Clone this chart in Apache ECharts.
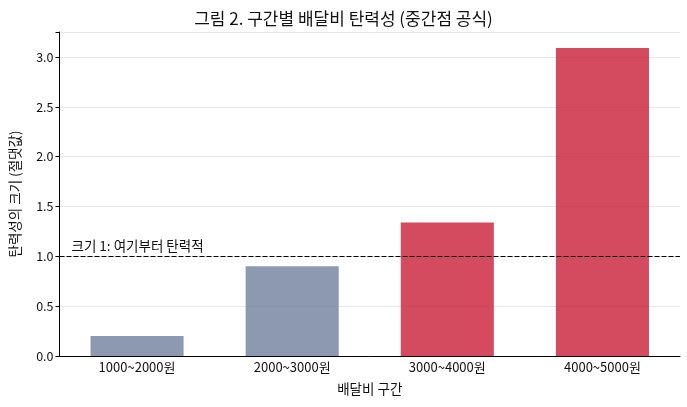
<!DOCTYPE html>
<html>
<head>
<meta charset="utf-8">
<script src="https://cdn.jsdelivr.net/npm/echarts@6/dist/echarts.min.js"></script>
<style>
  html, body { margin: 0; padding: 0; background: #fff; }
  #chart { width: 687px; height: 407px; }
</style>
</head>
<body>
<div id="chart"></div>
<script>
// 구간별 배달비 탄력성 (중간점 공식)
const categories = ['1000~2000원', '2000~3000원', '3000~4000원', '4000~5000원'];
const elasticity = [0.20, 0.90, 1.34, 3.09];
const threshold = 1.0;
const thresholdLabel = '크기 1: 여기부터 탄력적';
const yTicks = [0, 0.5, 1.0, 1.5, 2.0, 2.5, 3.0];

const FONT = '"Noto Sans CJK KR", "Noto Sans", sans-serif';
const grayColor = 'rgba(121, 135, 162, 0.85)';
const redColor = 'rgba(205, 42, 66, 0.85)';

const chart = echarts.init(document.getElementById('chart'), null, { renderer: 'canvas' });

const option = {
  backgroundColor: '#ffffff',
  textStyle: { fontFamily: FONT },
  title: {
    text: '그림 2. 구간별 배달비 탄력성 (중간점 공식)',
    left: 'center',
    top: 5,
    textStyle: { fontFamily: FONT, fontSize: 17, fontWeight: 'normal', color: '#111' }
  },
  grid: { left: 57, right: 7, top: 32, bottom: 51 },
  xAxis: {
    type: 'category',
    data: categories,
    name: '배달비 구간',
    nameLocation: 'middle',
    nameGap: 26,
    nameTextStyle: { fontFamily: FONT, fontSize: 13.5, color: '#111' },
    axisLine: { lineStyle: { color: '#000', width: 1 } },
    axisTick: { alignWithLabel: true, length: 4, lineStyle: { color: '#000' } },
    axisLabel: { fontFamily: FONT, fontSize: 13, color: '#111', margin: 5 }
  },
  yAxis: {
    type: 'value',
    min: 0,
    max: 3.25,
    interval: 0.5,
    name: '탄력성의 크기 (절댓값)',
    nameLocation: 'middle',
    nameGap: 38,
    nameTextStyle: { fontFamily: FONT, fontSize: 13.5, color: '#111' },
    axisLine: { show: true, lineStyle: { color: '#000', width: 1 } },
    axisTick: { show: true, length: 4, lineStyle: { color: '#000' } },
    axisLabel: {
      fontFamily: FONT, fontSize: 12.5, color: '#111', margin: 6,
      formatter: function (v) {
        return yTicks.indexOf(v) >= 0 ? v.toFixed(1) : '';
      }
    },
    splitLine: { show: true, lineStyle: { color: '#e6e6e6', width: 1 } }
  },
  series: [{
    type: 'bar',
    barWidth: '60%',
    data: elasticity.map(function (v) {
      return { value: v, itemStyle: { color: v >= threshold ? redColor : grayColor } };
    }),
    markLine: {
      silent: true,
      symbol: 'none',
      lineStyle: { color: '#000', type: [5, 2], width: 1.2 },
      label: {
        show: true,
        position: 'insideStartTop',
        formatter: thresholdLabel,
        fontFamily: FONT,
        fontSize: 13.5,
        color: '#111',
        distance: [12, 4]
      },
      data: [{ yAxis: threshold }]
    }
  }]
};

chart.setOption(option);
</script>
</body>
</html>
